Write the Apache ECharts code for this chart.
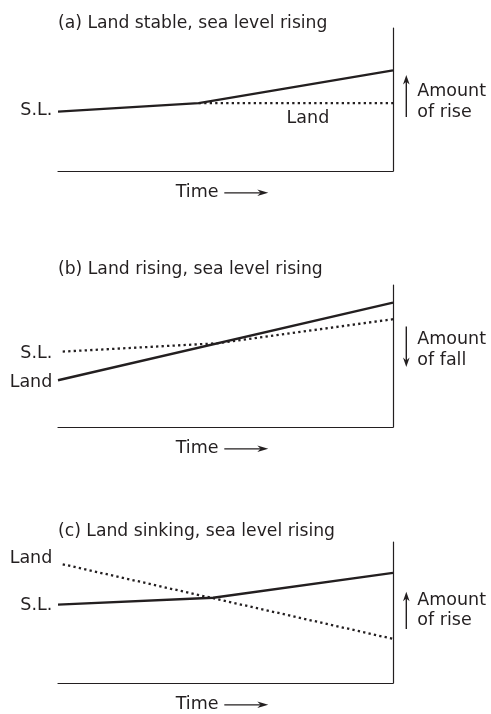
<!DOCTYPE html>
<html><head><meta charset="utf-8">
<script src="https://cdn.jsdelivr.net/npm/echarts@6/dist/echarts.min.js"></script>
<style>html,body{margin:0;padding:0;background:#fff}#c{width:491px;height:714px}</style>
</head><body><div id="c"></div>
<script>
const panelTitles = ['(a) Land stable, sea level rising', '(b) Land rising, sea level rising', '(c) Land sinking, sea level rising'];

// Panel (a): land stable, sea level rising
const seaTimeA = [0, 4.2, 10];
const seaLevelA = [4.15, 4.75, 7.04];
const landTimeA = [4.2, 10];
const landLevelA = [4.75, 4.75];
// Panel (b): land rising, sea level rising
const seaTimeB = [0.14, 4.78, 10];
const seaLevelB = [5.31, 5.90, 7.59];
const landTimeB = [0, 10];
const landLevelB = [3.29, 8.76];
// Panel (c): land sinking, sea level rising
const seaTimeC = [0, 4.63, 10];
const seaLevelC = [5.56, 6.05, 7.81];
const landTimeC = [0.14, 10];
const landLevelC = [8.42, 3.13];

// which curve is drawn solid in each panel
const solidCurve = ['sea', 'land', 'sea'];

// start-of-line labels (text, level)
const startLabelText = [['S.L.'], ['S.L.', 'Land'], ['Land', 'S.L.']];
const startLabelLevel = [[4.20], [5.17, 3.15], [8.83, 5.48]];

// right-hand change arrows (from level -> to level), and their captions
const arrowFrom = [3.78, 7.07, 3.83];
const arrowTo = [6.71, 4.22, 6.47];
const arrowText = ['Amount\nof rise', 'Amount\nof fall', 'Amount\nof rise'];
const arrowTextLevel = [4.83, 5.43, 5.14];

// in-plot note of panel (a)
const noteText = 'Land';
const noteTime = 7.46;
const noteLevel = 3.64;

const axisLabel = 'Time';

const panels = [
  {seaT: seaTimeA, seaV: seaLevelA, landT: landTimeA, landV: landLevelA},
  {seaT: seaTimeB, seaV: seaLevelB, landT: landTimeB, landV: landLevelB},
  {seaT: seaTimeC, seaV: seaLevelC, landT: landTimeC, landV: landLevelC}
];

const INK = '#231f20';
const FONT = 'DejaVu Sans';
const FS = 17.5;
const gridTops = [28, 285, 542];
const gridHeights = [143, 142, 141];
const titleCenters = [22, 268, 530];

const chart = echarts.init(document.getElementById('c'), null, {renderer: 'canvas'});
const zip = (a, b) => a.map((v, i) => [v, b[i]]);

const option = {
  animation: false,
  backgroundColor: '#fff',
  title: panelTitles.map((t, i) => ({
    text: t, left: 58, top: titleCenters[i] - 7, padding: 0,
    textStyle: {fontFamily: FONT, fontSize: 17.2, fontWeight: 'normal', color: INK}
  })),
  grid: gridTops.map((t, i) => ({left: 58, top: t, width: 335, height: gridHeights[i]})),
  xAxis: gridTops.map((t, i) => ({
    type: 'value', gridIndex: i, min: 0, max: 10,
    axisLine: {show: true, onZero: false, lineStyle: {color: INK, width: 1.2}},
    axisTick: {show: false}, axisLabel: {show: false}, splitLine: {show: false}
  })),
  yAxis: gridTops.map((t, i) => ({
    type: 'value', gridIndex: i, min: 0, max: 10, position: 'right',
    axisLine: {show: true, onZero: false, lineStyle: {color: INK, width: 1.2}},
    axisTick: {show: false}, axisLabel: {show: false}, splitLine: {show: false}
  })),
  series: []
};

panels.forEach((p, i) => {
  const solidIsSea = solidCurve[i] === 'sea';
  const solidData = solidIsSea ? zip(p.seaT, p.seaV) : zip(p.landT, p.landV);
  const dotData = solidIsSea ? zip(p.landT, p.landV) : zip(p.seaT, p.seaV);
  option.series.push({
    type: 'line', xAxisIndex: i, yAxisIndex: i, data: dotData, symbol: 'none', silent: true,
    lineStyle: {color: INK, width: 2.3, type: [2.3, 3.2]}, z: 2
  });
  option.series.push({
    type: 'line', xAxisIndex: i, yAxisIndex: i, data: solidData, symbol: 'none', silent: true,
    lineStyle: {color: INK, width: 2.4}, z: 3
  });
});

chart.setOption(option);

const g = [];
function arrowHead(tip, dir, len, half) {
  const [tx, ty] = tip, [dx, dy] = dir;
  const nx = -dy, ny = dx;
  return [
    [tx, ty],
    [tx - dx * len + nx * half, ty - dy * len + ny * half],
    [tx - dx * len * 0.7, ty - dy * len * 0.7],
    [tx - dx * len - nx * half, ty - dy * len - ny * half]
  ];
}
for (let i = 0; i < 3; i++) {
  const px = (x, y) => chart.convertToPixel({gridIndex: i}, [x, y]);
  const origin = px(0, 0);
  startLabelText[i].forEach((t, k) => {
    const pt = px(0, startLabelLevel[i][k]);
    g.push({type: 'text', x: origin[0] - 5.7, y: pt[1], silent: true,
      style: {text: t, font: FS + 'px "' + FONT + '"', fill: INK, align: 'right', verticalAlign: 'middle'}});
  });
  const a0 = px(10, arrowFrom[i]), a1 = px(10, arrowTo[i]);
  const ax = a0[0] + 13.3;
  const dir = a1[1] < a0[1] ? [0, -1] : [0, 1];
  g.push({type: 'line', silent: true, shape: {x1: ax, y1: a0[1], x2: ax, y2: a1[1] - dir[1] * 5},
    style: {stroke: INK, lineWidth: 1.4}});
  g.push({type: 'polygon', silent: true, shape: {points: arrowHead([ax, a1[1]], dir, 9.5, 3.3)},
    style: {fill: INK}});
  const tp = px(10, arrowTextLevel[i]);
  g.push({type: 'text', silent: true, x: ax + 11, y: tp[1],
    style: {text: arrowText[i], font: FS + 'px "' + FONT + '"', fill: INK, align: 'left', verticalAlign: 'middle', lineHeight: 20.6}});
  const c = px(5, 0);
  const ty = origin[1] + 21.3;
  g.push({type: 'text', silent: true, x: c[0] - 49.8, y: ty,
    style: {text: axisLabel, font: FS + 'px "' + FONT + '"', fill: INK, align: 'left', verticalAlign: 'middle'}});
  g.push({type: 'line', silent: true, shape: {x1: c[0] - 1.2, y1: ty + 0.5, x2: c[0] + 36, y2: ty + 0.5},
    style: {stroke: INK, lineWidth: 1.3}});
  g.push({type: 'polygon', silent: true, shape: {points: arrowHead([c[0] + 42.8, ty + 0.5], [1, 0], 11, 3.2)},
    style: {fill: INK}});
}
{
  const np = chart.convertToPixel({gridIndex: 0}, [noteTime, noteLevel]);
  g.push({type: 'text', silent: true, x: np[0], y: np[1],
    style: {text: noteText, font: FS + 'px "' + FONT + '"', fill: INK, align: 'center', verticalAlign: 'middle'}});
}
chart.setOption({graphic: g});
</script>
</body></html>
